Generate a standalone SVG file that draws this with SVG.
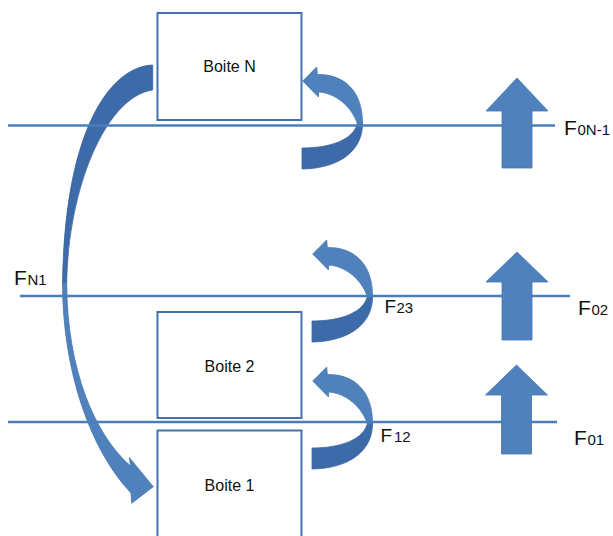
<svg xmlns="http://www.w3.org/2000/svg" width="613" height="536" viewBox="0 0 613 536">
<defs>
<style>
.box{fill:#ffffff;stroke:#4472b0;stroke-width:2}
.lvl{stroke:#4a7ebb;stroke-width:2.5;fill:none}
.lt{fill:#4f81bd;stroke:#4676b3;stroke-width:0.8}
.dk{fill:#3d6aa8;stroke:#3a64a0;stroke-width:0.8}
.up{fill:#4f81bd;stroke:#4173b0;stroke-width:0.8}
.bt{font-family:"Liberation Sans",Arial,sans-serif;font-size:16px;fill:#111;text-anchor:middle}
.lb{font-family:"Liberation Sans",Arial,sans-serif;fill:#111}
.big{font-size:21px}
.mid{font-size:19px}
.sub{font-size:15px}
</style>
<g id="curl">
<path class="dk" d="M362.5,121 C364,150 340,168.5 302,169 L302,148 C330,148 355,140 358,121 Z"/>
<path class="lt" d="M362.5,124 C363,92 345,74 317.3,74.5 L316.7,67 L302.7,81 L318.5,97 L318.5,92 C336,93 352,107 357.5,124 Z"/>
</g>
</defs>

<g id="boxes">
<g id="boiteN"><rect class="box" x="157.5" y="13" width="144" height="107"/><text class="bt" x="229.5" y="72">Boite N</text></g>
<g id="boite2"><rect class="box" x="157.5" y="312" width="144" height="106"/><text class="bt" x="229.5" y="372">Boite 2</text></g>
<g id="boite1"><rect class="box" x="157.5" y="430.5" width="144" height="112"/><text class="bt" x="229.5" y="491">Boite 1</text></g>
</g>

<g id="connectors">
<g id="FN1-arrow">
<path class="dk" d="M152.7,65 C115,66 65,120 62.5,283 L66.7,283 C68,190 105,97 152.7,90 Z"/>
<path class="lt" d="M62.5,283 C62.5,370 90,450 131,493 L131.7,503.3 L153.3,486.7 L129.3,457.5 L130.5,466 C95,435 67,370 66.7,283 Z"/>
</g>
<use id="curlN" href="#curl"/>
<use id="curl23" href="#curl" transform="translate(10,173)"/>
<use id="curl12" href="#curl" transform="translate(10,300)"/>
</g>

<g id="levels">
<line class="lvl" x1="8" y1="125.5" x2="555" y2="125.5"/>
<line class="lvl" x1="20" y1="296" x2="570" y2="296"/>
<line class="lvl" x1="8" y1="422" x2="557" y2="422"/>
</g>

<g id="external-forces">
<polygon id="up0N" class="up" points="517,78 548,111 532,111 532,168 502,168 502,111 486,111"/>
<polygon id="up02" class="up" points="517,252 548,282 532,282 532,340 502,340 502,282 486,282"/>
<polygon id="up01" class="up" points="516.5,365 547.5,395 531.5,395 531.5,454 501.5,454 501.5,395 485.5,395"/>
</g>

<g id="labels">
<text class="lb" y="135"><tspan class="big" x="564">F</tspan><tspan class="sub" x="577.5">0N-1</tspan></text>
<text class="lb" y="315"><tspan class="big" x="578">F</tspan><tspan class="sub" x="591.5">02</tspan></text>
<text class="lb" y="445"><tspan class="big" x="574">F</tspan><tspan class="sub" x="587.5">01</tspan></text>
<text class="lb" y="313"><tspan class="mid" x="384.5">F</tspan><tspan class="sub" x="396.5">23</tspan></text>
<text class="lb" y="442"><tspan class="mid" x="380.5">F</tspan><tspan class="sub" x="394">12</tspan></text>
<text class="lb" y="285"><tspan class="big" x="14">F</tspan><tspan class="sub" x="27.5">N1</tspan></text>
</g>
</svg>
